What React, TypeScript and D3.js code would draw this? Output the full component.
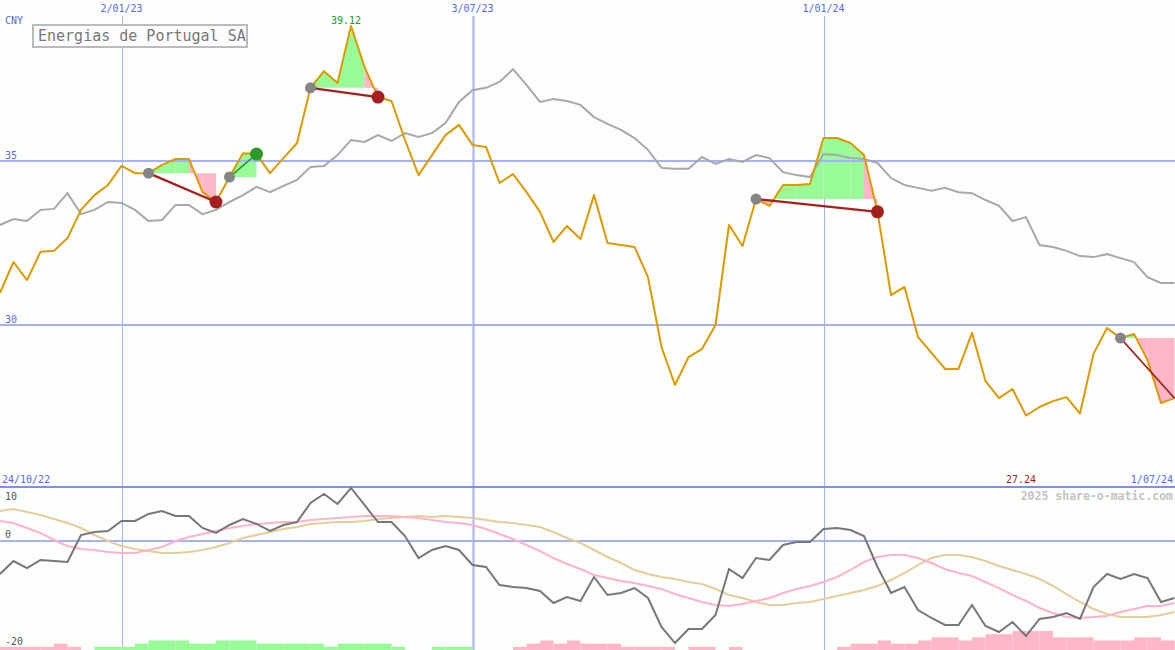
import * as d3 from "d3";

// weekly closes (CNY), 24/10/22 .. 1/07/24
const price = [
  30.98, 31.92, 31.37, 32.23, 32.26, 32.65, 33.51, 33.96, 34.27, 34.85,
  34.63, 34.63, 34.88, 35.06, 35.06, 34.05, 33.75, 34.51, 35.24, 35.21,
  34.63, 35.09, 35.55, 37.23, 37.74, 37.38, 39.12, 37.87, 36.95, 36.83,
  35.64, 34.57, 35.18, 35.79, 36.1, 35.49, 35.43, 34.33, 34.6, 34.05,
  33.45, 32.53, 33.02, 32.62, 33.96, 32.5, 32.44, 32.38, 31.46, 29.33,
  28.17, 29.02, 29.27, 30.0, 33.05, 32.41, 33.84, 33.63, 34.27, 34.27,
  34.3, 35.7, 35.7, 35.55, 35.18, 33.45, 30.91, 31.16, 29.63, 29.15,
  28.66, 28.66, 29.76, 28.29, 27.77, 28.05, 27.24, 27.5, 27.68, 27.8,
  27.3, 29.12, 29.91, 29.6, 29.73, 28.93, 27.62, 27.77,
];

// moving average (grey)
const avg = [
  33.05, 33.23, 33.17, 33.51, 33.54, 34.02, 33.38, 33.51, 33.75, 33.72,
  33.51, 33.17, 33.2, 33.66, 33.66, 33.38, 33.51, 33.75, 33.96, 34.21,
  34.05, 34.24, 34.42, 34.82, 34.85, 35.18, 35.64, 35.58, 35.79, 35.61,
  35.85, 35.73, 35.85, 36.16, 36.8, 37.16, 37.23, 37.41, 37.8, 37.32,
  36.8, 36.89, 36.83, 36.71, 36.34, 36.13, 35.95, 35.7, 35.34, 34.79,
  34.76, 34.76, 35.12, 34.91, 35.06, 34.97, 35.18, 35.09, 34.66, 34.57,
  34.51, 35.21, 35.18, 35.09, 35.06, 34.94, 34.48, 34.27, 34.18, 34.09,
  34.18, 34.05, 34.02, 33.81, 33.63, 33.17, 33.29, 32.44, 32.38, 32.26,
  32.1, 32.07, 32.16, 32.04, 31.92, 31.46, 31.28, 31.28,
];

// lower panel: momentum (dark grey), fast (pink) and slow (tan) averages
const osc = [
  -6.17, -3.74, -5.05, -3.55, -3.74, -3.93, 1.12, 1.68, 1.87, 3.74,
  3.74, 5.05, 5.61, 4.67, 4.67, 2.43, 1.5, 2.99, 4.11, 3.18,
  1.87, 2.99, 3.55, 7.1, 8.79, 6.92, 9.91, 6.73, 3.55, 3.55,
  0.93, -3.18, -1.68, -0.93, -1.68, -4.49, -4.86, -8.22, -8.6, -8.79,
  -9.35, -11.59, -10.47, -11.21, -6.73, -10.09, -9.72, -8.79, -10.65, -16.07,
  -19.07, -16.45, -16.45, -13.83, -5.23, -6.92, -3.18, -3.55, -0.75, -0.19,
  -0.19, 2.24, 2.43, 2.06, 0.93, -4.86, -9.72, -8.6, -12.9, -14.39,
  -15.7, -15.7, -11.96, -15.89, -17.01, -15.14, -17.76, -14.58, -14.21, -13.46,
  -14.58, -8.6, -6.17, -7.1, -6.17, -6.92, -11.4, -10.65,
];

const oscFast = [
  3.74, 3.36, 2.43, 1.5, 0.19, -0.93, -1.5, -1.68, -2.06, -2.24,
  -2.24, -1.68, -1.12, 0.0, 0.75, 1.31, 1.87, 2.43, 2.8, 3.18,
  3.36, 3.55, 3.55, 3.93, 4.11, 4.3, 4.49, 4.67, 4.67, 4.67,
  4.49, 4.3, 3.93, 3.55, 3.36, 2.99, 2.24, 1.31, 0.37, -0.75,
  -1.87, -3.18, -4.3, -5.23, -6.36, -6.92, -7.48, -7.85, -8.41, -8.97,
  -9.91, -10.65, -11.4, -11.96, -12.15, -11.78, -11.21, -10.65, -9.72, -8.97,
  -8.41, -7.66, -6.73, -5.42, -3.93, -2.99, -2.62, -2.62, -3.18, -4.11,
  -5.23, -5.98, -6.54, -7.66, -8.79, -10.09, -11.21, -12.52, -13.46, -14.21,
  -14.39, -14.21, -14.02, -13.27, -12.71, -12.15, -12.15, -11.59,
];

const oscSlow = [
  5.61, 5.98, 5.42, 4.86, 4.11, 3.36, 2.43, 1.12, 0.0, -0.93,
  -1.5, -1.87, -2.24, -2.24, -2.06, -1.68, -1.12, -0.37, 0.56, 1.12,
  1.68, 2.24, 2.62, 3.18, 3.36, 3.55, 3.55, 3.74, 4.11, 4.3,
  4.49, 4.67, 4.49, 4.67, 4.49, 4.3, 3.93, 3.55, 3.36, 2.99,
  2.62, 1.68, 0.56, -0.37, -1.68, -2.99, -4.11, -5.42, -6.17, -6.73,
  -7.1, -7.66, -8.04, -8.97, -10.09, -10.65, -11.4, -11.96, -11.96, -11.59,
  -11.4, -10.84, -10.28, -9.72, -9.16, -8.41, -7.29, -5.98, -4.49, -3.18,
  -2.62, -2.62, -2.99, -3.74, -4.67, -5.42, -6.17, -7.1, -8.41, -9.91,
  -11.4, -12.71, -13.64, -14.21, -14.21, -14.21, -13.83, -13.27,
];

// bottom histogram, in levels (+ green, - pink)
const hist = [
  -1, -1, -1, -1, -2, -1, 0, 1, 1, 1,
  2, 3, 3, 3, 2, 2, 3, 3, 3, 2,
  2, 2, 2, 2, 1, 2, 2, 2, 2, 1,
  0, 0, 1, 1, 1, 0, 0, 0, -1, -2,
  -3, -2, -3, -2, -2, -2, -1, -1, -1, -1,
  0, -1, -1, 0, -1, 0, 0, 0, 0, 0,
  0, 0, -1, -2, -2, -3, -2, -2, -3, -4,
  -4, -3, -4, -5, -5, -6, -6, -6, -4, -4,
  -4, -3, -3, -3, -4, -4, -3, -3,
];

const gridIdx = [9, 35, 61];
const gridLabels = ["2/01/23", "3/07/23", "1/01/24"];
const firstDate = "24/10/22";
const lastDate = "1/07/24";
const priceTicks = [35, 30];
const oscTicks = [10, 0, -20];

// trades: entry week, exit week
const entries = [11, 17, 23, 56, 83];
const exits = [16, 19, 28, 65, 87];
const stillOpen = [false, false, false, false, true];

const W = 1175;
const H = 650;
const blue = "#5868ee";
const gridCol = "#a4b2f2";
const mono = "'DejaVu Sans Mono', monospace";

export default function App() {
  const x = d3.scaleLinear([0, price.length - 1], [0, 1174.5]);
  const step = x(1) - x(0);
  const y = d3.scaleLinear([30, 35], [325, 161]);
  const yo = d3.scaleLinear([-20, 10], [648, 487.5]);
  const hh = d3.scaleLinear([0, 6], [0, 19]);

  const line = d3.line<number>((d, i) => x(i), (d) => y(d));
  const oline = d3.line<number>((d, i) => x(i), (d) => yo(d));
  const poly = d3.line<[number, number]>().x((d) => d[0]).y((d) => d[1]);

  const maxI = d3.maxIndex(price);
  const minI = d3.minIndex(price);
  const fmt = d3.format(".2f");

  // area between price and entry level, one piece per week
  const fills: { d: string; c: string }[] = [];
  entries.forEach((a, t) => {
    const b = exits[t];
    const e = price[a];
    for (let i = a; i < b; i++) {
      const pts: [number, number][] = [
        [x(i), y(e)],
        [x(i), y(price[i])],
        [x(i + 1), y(price[i + 1])],
        [x(i + 1), y(e)],
      ];
      fills.push({ d: poly(pts) + "Z", c: price[i + 1] < e ? "#ffb6c8" : "#98fb98" });
    }
  });

  return (
    <svg
      width={W}
      height={H}
      style={{ position: "absolute", left: 0, top: 0, display: "block" }}
      fontFamily={mono}
    >
      <rect width={W} height={H} fill="#fcfefb" />

      {/* vertical date lines */}
      {gridIdx.map((g, k) => (
        <g key={g}>
          <line
            x1={Math.round(x(g)) + 0.5}
            x2={Math.round(x(g)) + 0.5}
            y1={16}
            y2={H}
            stroke={gridCol}
            strokeWidth={k === 1 ? 2 : 1}
          />
          <text x={x(g)} y={12} textAnchor="middle" fontSize={10} fill={blue}>
            {gridLabels[k]}
          </text>
        </g>
      ))}

      {/* trade fills */}
      {fills.map((f, i) => (
        <path key={i} d={f.d} fill={f.c} stroke="none" />
      ))}

      {/* price grid */}
      {priceTicks.map((v) => (
        <g key={v}>
          <line x1={0} x2={W} y1={y(v)} y2={y(v)} stroke={gridCol} strokeWidth={2} />
          <text x={5} y={y(v) - 2} fontSize={10} fill={blue}>
            {v}
          </text>
        </g>
      ))}
      <text x={5} y={24} fontSize={10} fill={blue}>
        CNY
      </text>

      <path d={line(avg)!} fill="none" stroke="#a8a8a8" strokeWidth={2} />
      <path d={line(price)!} fill="none" stroke="#dd9900" strokeWidth={2} strokeLinejoin="round" />

      {/* trades */}
      {entries.map((a, t) => {
        const b = exits[t];
        const win = price[b] >= price[a];
        const col = win ? "#2a9a2a" : "#a51f1f";
        return (
          <g key={a}>
            <line
              x1={x(a)}
              y1={y(price[a])}
              x2={x(b)}
              y2={y(price[b])}
              stroke={col}
              strokeWidth={stillOpen[t] ? 1.6 : win ? 1.5 : 2.2}
            />
            <circle cx={x(a)} cy={y(price[a])} r={5.5} fill="#858585" />
            {!stillOpen[t] && (
              <circle cx={x(b)} cy={y(price[b])} r={6.5} fill={col} />
            )}
          </g>
        );
      })}

      {/* title box */}
      <rect x={33} y={25} width={214} height={22} fill="#fdfdfd" stroke="#bbbbbb" strokeWidth={2} />
      <text x={38} y={41} fontSize={15} fill="#777777">
        Energias de Portugal SA
      </text>

      <text x={x(maxI) - 5} y={24} textAnchor="middle" fontSize={10} fill="#229922">
        {fmt(price[maxI])}
      </text>
      <text x={x(minI) - 5} y={483} textAnchor="middle" fontSize={10} fill="#a51f1f">
        {fmt(price[minI])}
      </text>
      <text x={2} y={483} fontSize={10} fill={blue}>
        {firstDate}
      </text>
      <text x={1173} y={483} textAnchor="end" fontSize={10} fill={blue}>
        {lastDate}
      </text>

      {/* lower panel */}
      <line x1={0} x2={W} y1={487} y2={487} stroke="#7f8ef0" strokeWidth={2} />
      <line x1={0} x2={W} y1={yo(0)} y2={yo(0)} stroke={gridCol} strokeWidth={2} />
      <text x={1173} y={500} textAnchor="end" fontSize={11.5} fontWeight="bold" fill="#c4c4c4">
        2025 share-o-matic.com
      </text>
      {oscTicks.map((v) => (
        <text
          key={v}
          x={5}
          y={v === 10 ? yo(v) + 12 : yo(v) - 3}
          fontSize={10}
          fill="#555555"
        >
          {v}
        </text>
      ))}

      {hist.map((v, i) =>
        v === 0 ? null : (
          <rect
            key={i}
            x={x(i)}
            y={H - hh(Math.abs(v))}
            width={step}
            height={hh(Math.abs(v))}
            fill={v > 0 ? "#98fb98" : "#ffb6c8"}
          />
        )
      )}

      <path d={oline(oscSlow)!} fill="none" stroke="#e6cc9a" strokeWidth={2} />
      <path d={oline(oscFast)!} fill="none" stroke="#ffb3c9" strokeWidth={2} />
      <path d={oline(osc)!} fill="none" stroke="#777777" strokeWidth={2} />
    </svg>
  );
}
